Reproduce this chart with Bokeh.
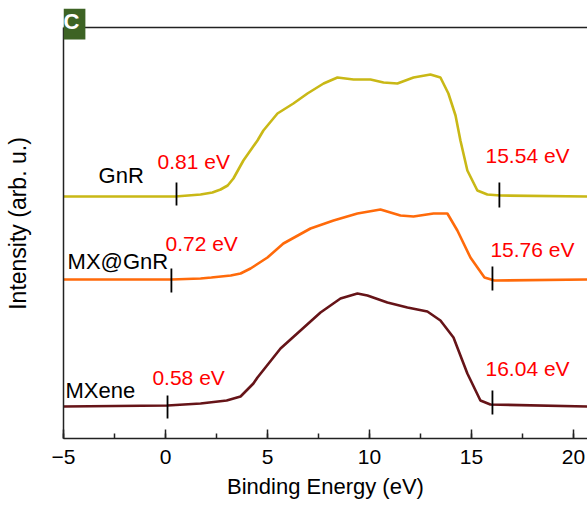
from bokeh.plotting import figure
from bokeh.models import Range1d, Span, Label, SingleIntervalTicker
from bokeh.core.properties import value
from bokeh.embed import file_html
from bokeh.resources import INLINE

# ---- data (binding energy in eV, intensity in arbitrary units) ----
gnr_x = [-5.0, 0.49, 1.72, 2.30, 2.70, 3.05, 3.33, 3.82, 4.51, 4.80, 5.49, 6.27, 6.96, 7.75, 8.43, 9.22,
         10.05, 10.69, 11.37, 12.16, 12.99, 13.48, 13.87, 14.22, 14.46, 14.80, 15.29, 15.78, 16.42, 20.69]
gnr_y = [242, 242, 244, 246, 249, 253, 260, 278, 298, 308, 325, 335, 345, 355, 361, 359,
         359, 356, 355, 361, 364, 361, 345, 323, 298, 268, 248, 244, 243, 242]

mxgnr_x = [-5.0, 0.29, 1.72, 2.25, 3.20, 3.68, 4.17, 5.00, 5.78, 7.11, 8.24, 9.41, 10.54, 11.52,
           12.16, 13.14, 13.82, 14.31, 14.95, 15.64, 16.13, 20.69]
mxgnr_y = [159, 159, 160, 161, 163, 165, 170, 181, 195, 210, 218, 225, 229, 223,
           222, 225, 225, 208, 181, 161, 158, 159]

mxene_x = [-5.0, 0.10, 1.72, 3.00, 3.68, 4.31, 4.51, 5.64, 6.62, 7.60, 8.58, 9.41, 9.90, 10.88,
           11.86, 12.84, 13.48, 14.12, 14.80, 15.44, 15.93, 20.69]
mxene_y = [32, 33, 35, 38, 42, 55, 61, 90, 108, 126, 140, 145, 143, 136,
           131, 127, 118, 101, 65, 38, 34, 32]

series_names = ["GnR", "MX@GnR", "MXene"]
series_colors = ["#C9B816", "#FF6A0A", "#661418"]

# onset / cutoff markers
mark_x = [0.54, 16.37, 0.29, 16.03, 0.10, 16.03]
mark_y0 = [233, 231, 146, 148, 20, 24]
mark_y1 = [256, 256, 170, 172, 43, 48]

# energy annotations
ev_text = ["0.81 eV", "15.54 eV", "0.72 eV", "15.76 eV", "0.58 eV", "16.04 eV"]
ev_x = [-0.39, 15.69, 0.0, 15.93, -0.64, 15.69]
ev_y = [277, 283, 195, 189, 61, 70]

name_x = [-3.28, -4.80, -4.90]
name_y = [263, 177, 48]

FONT = "Liberation Sans"

p = figure(width=587, height=507, output_backend="svg", toolbar_location=None,
           x_range=Range1d(-5, 20.69), y_range=Range1d(0, 430),
           min_border_left=63, min_border_right=0, min_border_top=8, min_border_bottom=69,
           x_axis_label="Binding Energy (eV)", y_axis_label="Intensity (arb. u.)")
p.outline_line_color = None
p.grid.grid_line_color = None
p.background_fill_color = "white"
p.border_fill_color = "white"

# x axis
xa = p.xaxis[0]
xa.ticker = SingleIntervalTicker(interval=5, num_minor_ticks=2)
xa.axis_line_width = 1.5
xa.axis_line_color = "#222222"
xa.major_tick_in = 9
xa.major_tick_out = 0
xa.minor_tick_in = 5
xa.minor_tick_out = 0
xa.major_tick_line_width = 1.5
xa.minor_tick_line_width = 1.5
xa.major_tick_line_color = "#222222"
xa.minor_tick_line_color = "#222222"
xa.major_label_text_font = FONT
xa.major_label_text_font_size = "21px"
xa.major_label_text_color = "black"
xa.major_label_standoff = 11
xa.axis_label_text_font = FONT
xa.axis_label_text_font_size = "22px"
xa.axis_label_text_font_style = "normal"
xa.axis_label_text_color = "black"
xa.axis_label_standoff = 7

# y axis (no ticks), line limited to the frame below the top border
ya = p.yaxis[0]
ya.bounds = (0, 411)
ya.axis_line_width = 1.5
ya.axis_line_color = "#222222"
ya.major_tick_line_color = None
ya.minor_tick_line_color = None
ya.major_label_text_font_size = "0px"
ya.major_label_text_color = None
ya.axis_label_text_font = FONT
ya.axis_label_text_font_size = "23px"
ya.axis_label_text_font_style = "normal"
ya.axis_label_text_color = "black"
ya.axis_label_standoff = 27

# top border of the frame
p.add_layout(Span(location=411, dimension="width", line_color="#222222", line_width=1.5))

# curves
for xs, ys, c in zip([gnr_x, mxgnr_x, mxene_x], [gnr_y, mxgnr_y, mxene_y], series_colors):
    p.line(xs, ys, line_color=c, line_width=2.6)

# markers
p.segment(x0=mark_x, y0=mark_y0, x1=mark_x, y1=mark_y1, line_color="black", line_width=1.8)

# labels
p.text(x=ev_x, y=ev_y, text=ev_text, text_color="#FF0000", text_font=value(FONT),
       text_font_size="21px", text_align="left", text_baseline="middle")
p.text(x=name_x, y=name_y, text=series_names, text_color="black", text_font=value(FONT),
       text_font_size="22px", text_align="left", text_baseline="middle")

# panel letter
p.add_layout(Label(x=-5, y=430, text="C", text_color="white", text_font=FONT,
                   text_font_size="22px", text_font_style="bold", text_line_height=0.95,
                   text_align="left", text_baseline="top",
                   background_fill_color="#3D6324", padding=(0, 6, 0, 6)))

open("out.html", "w").write(file_html(p, INLINE))
